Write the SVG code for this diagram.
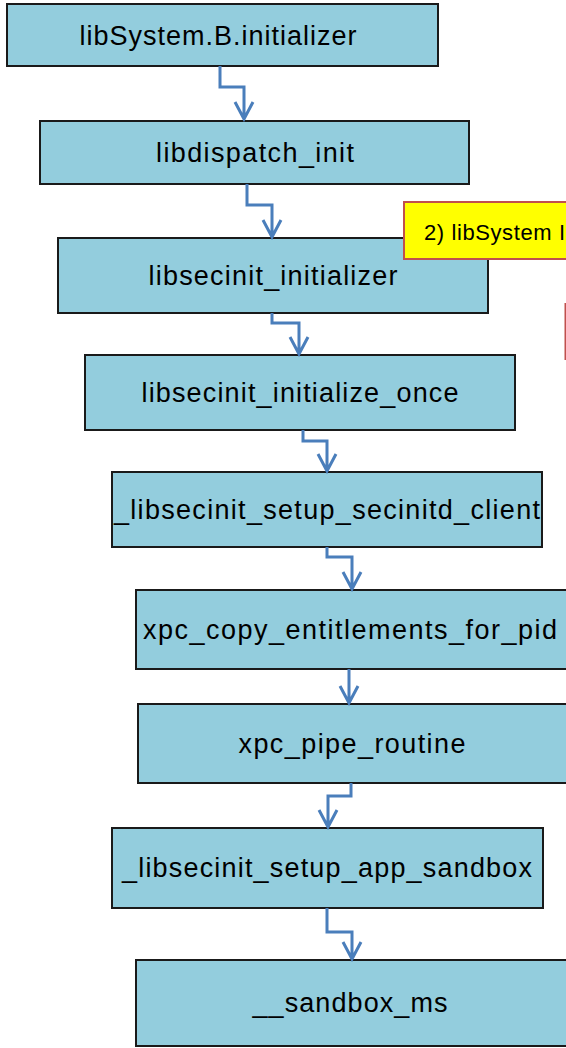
<svg xmlns="http://www.w3.org/2000/svg" width="566" height="1048" viewBox="0 0 566 1048">
<style>
.box{fill:#93cddd;stroke:#1a1a1a;stroke-width:2}
.t{font-family:"Liberation Sans",Arial,sans-serif;font-size:27px;fill:#000;text-anchor:middle}
.c{fill:none;stroke:#4a7ebb;stroke-width:3}
.note{fill:#ffff00;stroke:#c0504d;stroke-width:2}
</style>
<rect width="566" height="1048" fill="#fff"/>
<g id="n1"><rect class="box" x="7" y="4" width="431" height="62"/><text class="t" x="218" y="45" textLength="277">libSystem.B.initializer</text></g>
<g id="n2"><rect class="box" x="40" y="121" width="429" height="63"/><text class="t" x="255" y="162" textLength="198">libdispatch_init</text></g>
<g id="n3"><rect class="box" x="58" y="238" width="430" height="75"/><text class="t" x="273" y="285" textLength="249">libsecinit_initializer</text></g>
<g id="n4"><rect class="box" x="85" y="355" width="430" height="75"/><text class="t" x="300" y="402" textLength="317">libsecinit_initialize_once</text></g>
<g id="n5"><rect class="box" x="112" y="472" width="430" height="75"/><text class="t" x="327" y="519" textLength="426">_libsecinit_setup_secinitd_client</text></g>
<g id="n6"><rect class="box" x="136" y="590" width="440" height="79"/><text class="t" x="350" y="639" textLength="414">xpc_copy_entitlements_for_pid</text></g>
<g id="n7"><rect class="box" x="138" y="704" width="440" height="79"/><text class="t" x="352" y="753" textLength="227">xpc_pipe_routine</text></g>
<g id="n8"><rect class="box" x="112" y="828" width="431" height="80"/><text class="t" x="327" y="877" textLength="410">_libsecinit_setup_app_sandbox</text></g>
<g id="n9"><rect class="box" x="136" y="960" width="440" height="86"/><text class="t" x="350" y="1012" textLength="195">__sandbox_ms</text></g>
<g id="note"><rect class="note" x="404" y="202" width="170" height="57"/><text x="424" y="240" textLength="141" style="font-family:'Liberation Sans',Arial,sans-serif;font-size:22px">2) libSystem I</text></g>
<g id="note2"><line x1="565.5" y1="303" x2="565.5" y2="360" stroke="#c0504d" stroke-width="2"/></g>
<g id="connectors">
<path class="c" d="M220 66V87H244V119M235 102L244 119L253 102"/>
<path class="c" d="M247 184V205H272V237M263 220L272 237L281 220"/>
<path class="c" d="M272 313V323H299V354M290 337L299 354L308 337"/>
<path class="c" d="M303 430V441H327V471M318 454L327 471L336 454"/>
<path class="c" d="M327 547V557H352V589M343 572L352 589L361 572"/>
<path class="c" d="M349 669V703M340 686L349 703L358 686"/>
<path class="c" d="M351 783V796H328V827M319 810L328 827L337 810"/>
<path class="c" d="M327 908V932H352V959M343 942L352 959L361 942"/>
</g>
</svg>
